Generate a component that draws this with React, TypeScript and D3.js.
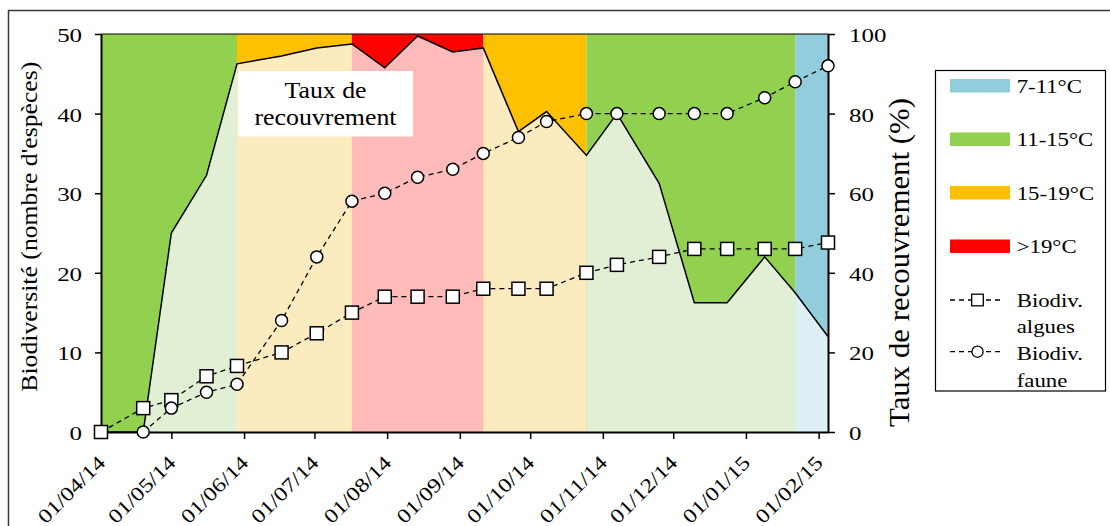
import React, { useEffect, useRef } from 'react';
import * as d3 from 'd3';

// sampling dates
const dates = [
  "2014-04-01", "2014-04-19", "2014-05-01", "2014-05-16", "2014-05-29", "2014-06-17",
  "2014-07-02", "2014-07-17", "2014-07-31", "2014-08-14", "2014-08-29", "2014-09-11",
  "2014-09-26", "2014-10-08", "2014-10-25", "2014-11-07", "2014-11-25", "2014-12-10",
  "2014-12-24", "2015-01-09", "2015-01-22", "2015-02-05"
];
// biodiversity of algae (left axis)
const algues = [0, 3, 4, 7, 8.3, 10, 12.4, 15, 17, 17, 17, 18, 18, 18, 20, 21, 22, 23, 23, 23, 23, 23.8];
// biodiversity of fauna (left axis)
const faune = [null, 0, 3, 5, 6, 14, 22, 29, 30, 32, 33, 35, 37, 39, 40, 40, 40, 40, 40, 42, 44, 46];
// cover rate in % (right axis)
const cover = [0, 0, 50, 64.5, 92.5, 94.5, 96.5, 97.5, 91.5, 99.5, 95.5, 96.5, 75.5, 80.5, 69.5, 80, 62.5, 32.5, 32.5, 44, 35, 24];

// temperature periods
const bandStarts = ["2014-04-01", "2014-05-29", "2014-07-17", "2014-09-11", "2014-10-25", "2015-01-22"];
const bandEnds = ["2014-05-29", "2014-07-17", "2014-09-11", "2014-10-25", "2015-01-22", "2015-02-05"];
const bandZones = [1, 2, 3, 2, 1, 0];

const zoneLabels = ["7-11°C", "11-15°C", "15-19°C", ">19°C"];
const zoneDark = ["#92CDDC", "#92D050", "#FFC000", "#FF0000"];
const zoneLight = ["#DEF0F5", "#E1EFD5", "#FCEBBE", "#FFBABA"];

const leftTicks = [0, 10, 20, 30, 40, 50];
const rightTicks = [0, 20, 40, 60, 80, 100];

interface Pt {
  date: Date;
  a: number;
  f: number | null;
  c: number;
}

const serif = '"Liberation Serif", "Times New Roman", serif';

const App: React.FC = () => {
  const svgRef = useRef<SVGSVGElement>(null);

  useEffect(() => {
    const svg = d3.select(svgRef.current);
    svg.selectAll("*").remove();

    const parse = d3.timeParse("%Y-%m-%d");
    const pts: Pt[] = dates.map((d, i) => ({ date: parse(d)!, a: algues[i], f: faune[i], c: cover[i] }));

    const left = 101, right = 828, top = 34, bottom = 432;

    const x = d3.scaleTime()
      .domain([parse("2014-04-01")!, parse("2015-02-05")!])
      .range([left, right]);
    const yL = d3.scaleLinear().domain([0, 50]).range([bottom, top]);
    const yR = d3.scaleLinear().domain([0, 100]).range([bottom, top]);

    // outer frame
    svg.append("rect")
      .attr("x", 8.5).attr("y", 10.5)
      .attr("width", 1110).attr("height", 530)
      .attr("fill", "#fff")
      .attr("stroke", "#3a3a3a")
      .attr("stroke-width", 1.5);

    // temperature bands (dark)
    bandStarts.forEach((s, i) => {
      const x0 = x(parse(s)!), x1 = x(parse(bandEnds[i])!);
      svg.append("rect")
        .attr("x", x0).attr("y", top)
        .attr("width", x1 - x0).attr("height", bottom - top)
        .attr("fill", zoneDark[bandZones[i]]);
    });

    // clip under the cover curve
    const area = d3.area<Pt>()
      .x(d => x(d.date))
      .y0(bottom)
      .y1(d => yR(d.c));
    svg.append("defs").append("clipPath")
      .attr("id", "under")
      .append("path")
      .attr("d", area(pts));

    bandStarts.forEach((s, i) => {
      const x0 = x(parse(s)!), x1 = x(parse(bandEnds[i])!);
      svg.append("rect")
        .attr("x", x0).attr("y", top)
        .attr("width", x1 - x0).attr("height", bottom - top)
        .attr("fill", zoneLight[bandZones[i]])
        .attr("clip-path", "url(#under)");
    });

    const coverLine = d3.line<Pt>()
      .x(d => x(d.date))
      .y(d => yR(d.c));
    svg.append("path")
      .datum(pts)
      .attr("fill", "none")
      .attr("stroke", "#000")
      .attr("stroke-width", 1.5)
      .attr("d", coverLine);

    // "Taux de recouvrement" label box
    svg.append("rect")
      .attr("x", 238).attr("y", 71)
      .attr("width", 175).attr("height", 65.5)
      .attr("fill", "#fff");
    [["Taux de", 98.3], ["recouvrement", 125]].forEach(([t, by]) => {
      svg.append("text")
        .attr("transform", `translate(325.5,${by}) scale(1.1,1)`)
        .attr("text-anchor", "middle")
        .attr("font-family", serif)
        .attr("font-size", 23.5)
        .attr("fill", "#000")
        .text(t as string);
    });

    // top border of plot
    svg.append("line")
      .attr("x1", left).attr("x2", right)
      .attr("y1", top).attr("y2", top)
      .attr("stroke", "#000").attr("stroke-width", 1.2);

    // left axis
    const gL = svg.append("g")
      .attr("transform", `translate(${left},0)`)
      .call(d3.axisLeft(yL).tickValues(leftTicks).tickSize(6).tickSizeOuter(0).tickFormat(d3.format("d")));
    gL.select(".domain").attr("stroke", "#000").attr("stroke-width", 2);
    gL.selectAll(".tick line").attr("stroke", "#000").attr("stroke-width", 1.5);
    gL.selectAll(".tick text")
      .attr("x", -14).attr("dy", "0.4em")
      .attr("transform", "scale(1.35,1)")
      .attr("font-family", serif).attr("font-size", 18.5).attr("fill", "#000");

    // right axis
    const gR = svg.append("g")
      .attr("transform", `translate(${right},0)`)
      .call(d3.axisRight(yR).tickValues(rightTicks).tickSize(7).tickSizeOuter(0).tickFormat(d3.format("d")));
    gR.select(".domain").attr("stroke", "#000").attr("stroke-width", 2);
    gR.selectAll(".tick line").attr("stroke", "#000").attr("stroke-width", 1.5);
    gR.selectAll(".tick text")
      .attr("x", 15.5).attr("dy", "0.4em")
      .attr("transform", "scale(1.35,1)")
      .attr("font-family", serif).attr("font-size", 18.5).attr("fill", "#000");

    // bottom axis
    const gB = svg.append("g")
      .attr("transform", `translate(0,${bottom})`)
      .call(d3.axisBottom(x)
        .ticks(d3.timeMonth.every(1))
        .tickFormat(d => d3.timeFormat("%d/%m/%y")(d as Date))
        .tickSize(7).tickSizeOuter(0));
    gB.select(".domain").attr("stroke", "#000").attr("stroke-width", 2);
    gB.selectAll(".tick line").attr("stroke", "#000").attr("stroke-width", 1.5);
    gB.selectAll(".tick text")
      .attr("x", 0).attr("y", 0).attr("dy", "0.35em")
      .attr("transform", "translate(0,27) rotate(-45)")
      .attr("text-anchor", "end")
      .attr("textLength", 86)
      .attr("lengthAdjust", "spacingAndGlyphs")
      .attr("font-family", serif).attr("font-size", 20).attr("fill", "#000");

    // biodiversity lines
    const algLine = d3.line<Pt>()
      .x(d => x(d.date))
      .y(d => yL(d.a));
    const fauLine = d3.line<Pt>()
      .defined(d => d.f != null)
      .x(d => x(d.date))
      .y(d => yL(d.f as number));

    svg.append("path")
      .datum(pts)
      .attr("fill", "none").attr("stroke", "#000")
      .attr("stroke-width", 1.3).attr("stroke-dasharray", "5,4")
      .attr("d", algLine);
    svg.append("path")
      .datum(pts)
      .attr("fill", "none").attr("stroke", "#000")
      .attr("stroke-width", 1.3).attr("stroke-dasharray", "5,4")
      .attr("d", fauLine);

    svg.selectAll(".sq")
      .data(pts)
      .enter()
      .append("rect")
      .attr("class", "sq")
      .attr("x", d => x(d.date) - 6.5)
      .attr("y", d => yL(d.a) - 6.5)
      .attr("width", 13).attr("height", 13)
      .attr("fill", "#fff").attr("stroke", "#000").attr("stroke-width", 1.5);

    svg.selectAll(".ci")
      .data(pts.filter(d => d.f != null))
      .enter()
      .append("circle")
      .attr("class", "ci")
      .attr("cx", d => x(d.date))
      .attr("cy", d => yL(d.f as number))
      .attr("r", 6)
      .attr("fill", "#fff").attr("stroke", "#000").attr("stroke-width", 1.5);

    // axis titles
    svg.append("text")
      .attr("transform", "translate(37,226.7) rotate(-90)")
      .attr("text-anchor", "middle")
      .attr("textLength", 330)
      .attr("lengthAdjust", "spacingAndGlyphs")
      .attr("font-family", serif).attr("font-size", 23).attr("fill", "#000")
      .text("Biodiversité (nombre d'espèces)");

    svg.append("text")
      .attr("transform", "translate(909,262.5) rotate(-90)")
      .attr("text-anchor", "middle")
      .attr("textLength", 329)
      .attr("lengthAdjust", "spacingAndGlyphs")
      .attr("font-family", serif).attr("font-size", 29).attr("fill", "#000")
      .text("Taux de recouvrement (%)");

    // legend
    const lg = svg.append("g");
    lg.append("rect")
      .attr("x", 935.5).attr("y", 70.5)
      .attr("width", 170).attr("height", 320.5)
      .attr("fill", "#fff").attr("stroke", "#000").attr("stroke-width", 1.2);

    zoneLabels.forEach((lab, i) => {
      const by = 92.5 + i * 53.5;
      lg.append("rect")
        .attr("x", 950).attr("y", by - 13.5)
        .attr("width", 60).attr("height", 13.5)
        .attr("fill", zoneDark[i]);
      lg.append("text")
        .attr("transform", `translate(1016.7,${by}) scale(1.2,1)`)
        .attr("font-family", serif).attr("font-size", 19).attr("fill", "#000")
        .text(lab);
    });

    const lineItems: [string, string, string][] = [["sq", "Biodiv.", "algues"], ["ci", "Biodiv.", "faune"]];
    lineItems.forEach(([kind, l1, l2], i) => {
      const cy = 300 + i * 51.7;
      const by = 306.7 + i * 53.3;
      lg.append("line")
        .attr("x1", 950).attr("x2", 1004)
        .attr("y1", cy).attr("y2", cy)
        .attr("stroke", "#000").attr("stroke-width", 1.3).attr("stroke-dasharray", "5,4");
      if (kind === "sq") {
        lg.append("rect")
          .attr("x", 977.5 - 5.8).attr("y", cy - 5.8)
          .attr("width", 11.6).attr("height", 11.6)
          .attr("fill", "#fff").attr("stroke", "#000").attr("stroke-width", 1.3);
      } else {
        lg.append("circle")
          .attr("cx", 977.5).attr("cy", cy).attr("r", 5.6)
          .attr("fill", "#fff").attr("stroke", "#000").attr("stroke-width", 1.3);
      }
      lg.append("text")
        .attr("transform", `translate(1016.7,${by}) scale(1.2,1)`)
        .attr("font-family", serif).attr("font-size", 19).attr("fill", "#000")
        .text(l1);
      lg.append("text")
        .attr("transform", `translate(1016.7,${by + 26.5}) scale(1.2,1)`)
        .attr("font-family", serif).attr("font-size", 19).attr("fill", "#000")
        .text(l2);
    });
  }, []);

  return (
    <svg
      ref={svgRef}
      width={1110}
      height={526}
      style={{ position: 'absolute', left: 0, top: 0, background: '#fff', display: 'block' }}
    ></svg>
  );
};

export default App;
